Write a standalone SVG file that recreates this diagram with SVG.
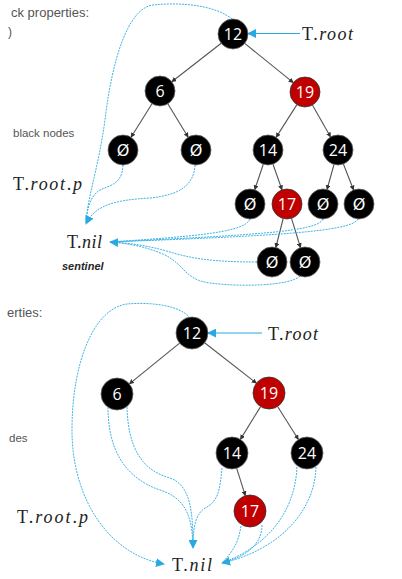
<svg xmlns="http://www.w3.org/2000/svg" width="402" height="579" viewBox="0 0 402 579">
<defs>
<marker id="ah" viewBox="0 0 10 10" refX="9" refY="5" markerWidth="5" markerHeight="5" markerUnits="userSpaceOnUse" orient="auto"><path d="M0,0 L10,5 L0,10 z" fill="#333"/></marker>
<marker id="bh" viewBox="0 0 10 10" refX="9" refY="5" markerWidth="9" markerHeight="9" markerUnits="userSpaceOnUse" orient="auto"><path d="M0,0 L10,5 L0,10 z" fill="#29a9e1"/></marker>
</defs>
<style>
.bg{fill:#fff}
.blk{fill:#000;stroke:#666;stroke-width:0.8}
.red{fill:#c00000;stroke:#333;stroke-width:0.8}
.lbl{font-family:"Open Sans","Liberation Sans",Arial,sans-serif;font-size:16px;fill:#fff;text-anchor:middle}
.nil{font-family:"DejaVu Sans",sans-serif;font-size:16px;fill:#fff;text-anchor:middle}
.edge{stroke:#555;stroke-width:1.1;fill:none;marker-end:url(#ah)}
.dash{stroke:#3db4e6;stroke-width:1;fill:none;stroke-dasharray:2 1}
.dasharrow{marker-end:url(#bh)}
.solid{stroke:#29a9e1;stroke-width:1;fill:none;marker-end:url(#bh)}
.note{font-family:"Liberation Sans",Arial,sans-serif;fill:#555}
.math{font-family:"Liberation Serif","DejaVu Serif",serif;fill:#222}
.it{font-style:italic}
</style>
<rect class="bg" x="0" y="0" width="402" height="579"/>

<g id="notes">
<text class="note" x="11" y="17" font-size="13">ck properties:</text>
<text class="note" x="8" y="36" font-size="12">)</text>
<text class="note" x="13" y="137" font-size="11.5">black nodes</text>
<text class="note" x="7" y="317" font-size="13">erties:</text>
<text class="note" x="9" y="442" font-size="11.5">des</text>
</g>

<g id="connectors">
<!-- top tree edges -->
<line class="edge" x1="221.2" y1="43.2" x2="171.8" y2="81.8"/>
<line class="edge" x1="244.7" y1="43.4" x2="293.3" y2="82.6"/>
<line class="edge" x1="152" y1="103.7" x2="131" y2="137.3"/>
<line class="edge" x1="167.8" y1="103.8" x2="188.2" y2="137.2"/>
<line class="edge" x1="296.9" y1="104.6" x2="276.1" y2="137.4"/>
<line class="edge" x1="312.4" y1="105" x2="330.6" y2="137"/>
<line class="edge" x1="263.3" y1="164.2" x2="254.7" y2="189.8"/>
<line class="edge" x1="273" y1="164.2" x2="282" y2="189.8"/>
<line class="edge" x1="334" y1="164.5" x2="327" y2="189.5"/>
<line class="edge" x1="343.4" y1="164" x2="353.6" y2="190"/>
<line class="edge" x1="283.2" y1="218.5" x2="275.8" y2="247.5"/>
<line class="edge" x1="291.5" y1="218.3" x2="300.5" y2="247.7"/>
<!-- top sentinel links -->
<line class="solid" x1="300" y1="33.5" x2="248" y2="33.5"/>
<path class="dash" d="M232 19 C215 5,180 2,153 5 C128 8,112 60,105 120 C98 170,88 195,86 222"/>
<path class="dash" d="M123 165 C122 185,110 185,100 190 C90 196,87 210,86 222"/>
<path class="dash dasharrow" d="M195 165 C194 185,180 195,150 198 C115 200,95 205,86 224"/>
<path class="dash" d="M250 219 C245 232,200 236,110 242"/>
<path class="dash" d="M323 219 C318 232,250 235,110 242"/>
<path class="dash" d="M358 219 C352 232,270 236,110 242"/>
<path class="dash" d="M257 262 C210 262,190 258,170 252 C150 246,130 243,110 242"/>
<path class="dash dasharrow" d="M300 276 C290 286,240 287,210 283 C185 280,185 265,165 255 C145 246,125 243,110 242"/>
<!-- bottom tree edges -->
<line class="edge" x1="179.6" y1="343.1" x2="129.4" y2="383.9"/>
<line class="edge" x1="204.6" y1="342.8" x2="256.4" y2="383.2"/>
<line class="edge" x1="260.6" y1="406.6" x2="240.4" y2="439.4"/>
<line class="edge" x1="277.6" y1="406.5" x2="298.4" y2="439.5"/>
<line class="edge" x1="236.7" y1="468.3" x2="245.3" y2="495.7"/>
<!-- bottom sentinel links -->
<line class="solid" x1="262" y1="333" x2="208" y2="333"/>
<path class="dash dasharrow" d="M190 318 C180 305,150 302,127 304 C95 308,72 360,72 430 C72 500,110 555,164 564"/>
<path class="dash" d="M108 407 C108 450,125 478,160 490 C185 498,192 515,193 546"/>
<path class="dash" d="M127 407 C128 445,140 470,170 478 C190 485,193 510,193 546"/>
<path class="dash dasharrow" d="M222 468 C220 490,218 502,205 508 C196 514,193 525,193 548"/>
<path class="dash" d="M241 526 C238 545,232 552,222 563"/>
<path class="dash" d="M262 525 C262 545,245 557,222 563"/>
<path class="dash" d="M297 467 C295 510,270 545,222 563"/>
<path class="dash dasharrow" d="M316 467 C315 510,280 550,222 563"/>
</g>

<!-- top tree nodes -->
<g id="t12"><circle class="blk" cx="233" cy="34" r="15"/><text class="lbl" x="233" y="39.5">12</text></g>
<g id="t6"><circle class="blk" cx="160" cy="91" r="15"/><text class="lbl" x="160" y="96.5">6</text></g>
<g id="t19"><circle class="red" cx="305" cy="92" r="15"/><text class="lbl" x="305" y="97.5">19</text></g>
<g id="tn1"><circle class="blk" cx="123" cy="150" r="15"/><text class="nil" x="123" y="156">Ø</text></g>
<g id="tn2"><circle class="blk" cx="196" cy="150" r="15"/><text class="nil" x="196" y="156">Ø</text></g>
<g id="t14"><circle class="blk" cx="268" cy="150" r="15"/><text class="lbl" x="268" y="155.5">14</text></g>
<g id="t24"><circle class="blk" cx="338" cy="150" r="15"/><text class="lbl" x="338" y="155.5">24</text></g>
<g id="tn3"><circle class="blk" cx="250" cy="204" r="15"/><text class="nil" x="250" y="210">Ø</text></g>
<g id="t17"><circle class="red" cx="287" cy="204" r="15"/><text class="lbl" x="287" y="209.5">17</text></g>
<g id="tn4"><circle class="blk" cx="323" cy="204" r="15"/><text class="nil" x="323" y="210">Ø</text></g>
<g id="tn5"><circle class="blk" cx="359" cy="204" r="15"/><text class="nil" x="359" y="210">Ø</text></g>
<g id="tn6"><circle class="blk" cx="272" cy="262" r="15"/><text class="nil" x="272" y="268">Ø</text></g>
<g id="tn7"><circle class="blk" cx="305" cy="262" r="15"/><text class="nil" x="305" y="268">Ø</text></g>

<g id="top-labels">
<text class="math" x="302" y="40" font-size="18" textLength="51" lengthAdjust="spacing">T.<tspan class="it">root</tspan></text>
<text class="math" x="13" y="190" font-size="18" textLength="69" lengthAdjust="spacing">T.<tspan class="it">root</tspan>.<tspan class="it">p</tspan></text>
<text class="math" x="67" y="248" font-size="18" textLength="35" lengthAdjust="spacing">T.<tspan class="it">nil</tspan></text>
<text x="62" y="270" font-family="Liberation Sans,Arial,sans-serif" font-size="11" font-style="italic" font-weight="bold" fill="#262626">sentinel</text>
</g>

<!-- bottom tree nodes -->
<g id="b12"><circle class="blk" cx="192" cy="333" r="16"/><text class="lbl" x="192" y="339">12</text></g>
<g id="b6"><circle class="blk" cx="117" cy="394" r="16"/><text class="lbl" x="117" y="400">6</text></g>
<g id="b19"><circle class="red" cx="269" cy="393" r="16"/><text class="lbl" x="269" y="399">19</text></g>
<g id="b14"><circle class="blk" cx="232" cy="453" r="16"/><text class="lbl" x="232" y="459">14</text></g>
<g id="b24"><circle class="blk" cx="307" cy="453" r="16"/><text class="lbl" x="307" y="459">24</text></g>
<g id="b17"><circle class="red" cx="250" cy="511" r="16"/><text class="lbl" x="250" y="517">17</text></g>

<g id="bottom-labels">
<text class="math" x="268" y="340" font-size="18" textLength="50" lengthAdjust="spacing">T.<tspan class="it">root</tspan></text>
<text class="math" x="17" y="523" font-size="18" textLength="71" lengthAdjust="spacing">T.<tspan class="it">root</tspan>.<tspan class="it">p</tspan></text>
<text class="math" x="172" y="571" font-size="18" textLength="40" lengthAdjust="spacing">T.<tspan class="it">nil</tspan></text>
</g>
</svg>
